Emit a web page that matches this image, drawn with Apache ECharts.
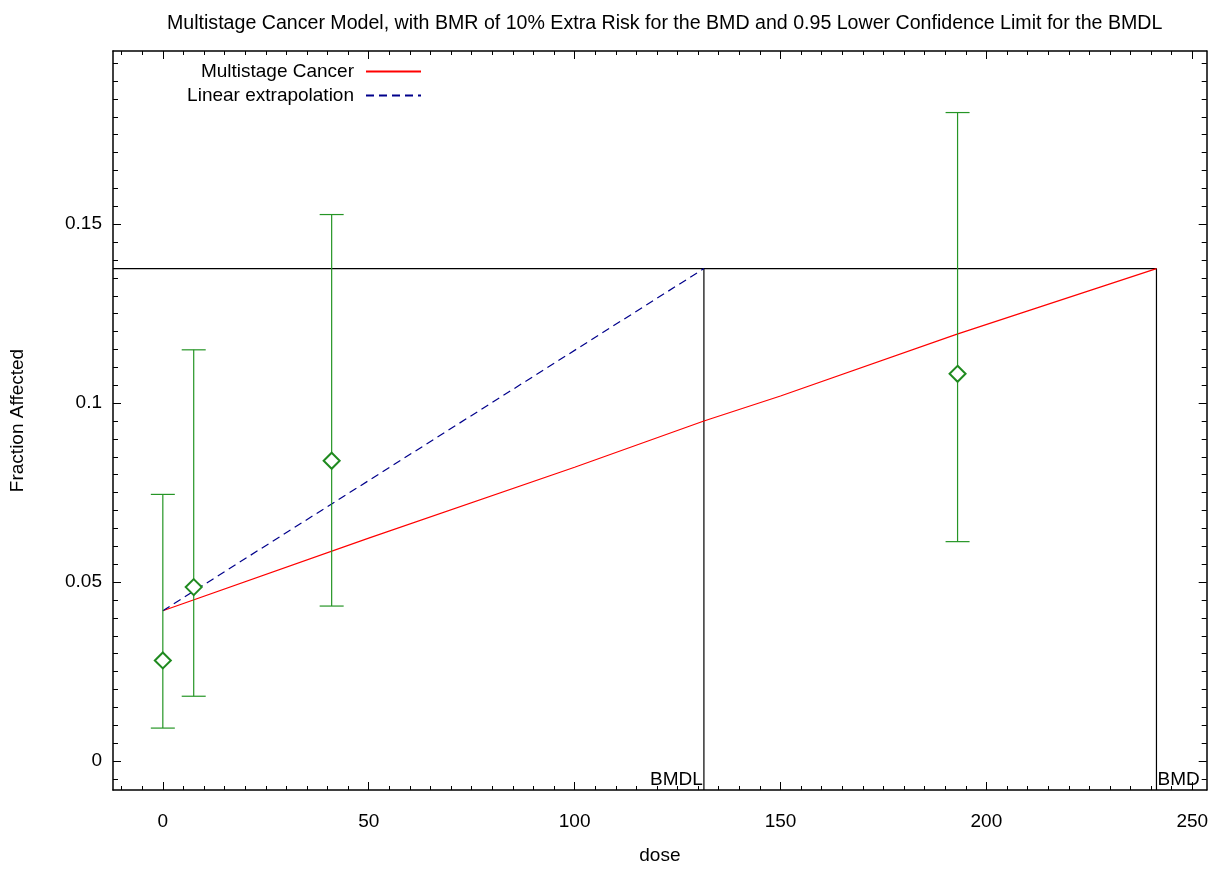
<!DOCTYPE html>
<html>
<head>
<meta charset="utf-8">
<script src="https://cdn.jsdelivr.net/npm/echarts@6/dist/echarts.min.js"></script>
<style>html,body{margin:0;padding:0;background:#fff;}#chart{width:1217px;height:870px;}</style>
</head>
<body>
<div id="chart"></div>
<script>
// ---- data ----
const TITLE = 'Multistage Cancer Model, with BMR of 10% Extra Risk for the BMD and 0.95 Lower Confidence Limit for the BMDL';
const X_NAME = 'dose';
const Y_NAME = 'Fraction Affected';
const X_MIN = -12.1, X_MAX = 253.5;
const Y_MIN = -0.0081, Y_MAX = 0.1984;
const X_MAJOR = [0, 50, 100, 150, 200, 250];
const X_MINOR = [-10,-5,5,10,15,20,25,30,35,40,45,55,60,65,70,75,80,85,90,95,105,110,115,120,125,130,135,140,145,155,160,165,170,175,180,185,190,195,205,210,215,220,225,230,235,240,245];
const Y_MAJOR = [0, 0.05, 0.1, 0.15];
const Y_MINOR = [-0.005,0.005,0.01,0.015,0.02,0.025,0.03,0.035,0.04,0.045,0.055,0.06,0.065,0.07,0.075,0.08,0.085,0.09,0.095,0.105,0.11,0.115,0.12,0.125,0.13,0.135,0.14,0.145,0.155,0.16,0.165,0.17,0.175,0.18,0.185,0.19,0.195];

const doses    = [0, 7.5, 41, 193];
const observed = [0.0281, 0.0486, 0.0839, 0.1082];
const lowerCL  = [0.0092, 0.0181, 0.0433, 0.0613];
const upperCL  = [0.0745, 0.1149, 0.1527, 0.1812];

const modelDose = [0, 50, 100, 131.4, 150, 192.7, 241.3];
const modelFit  = [0.0420, 0.0623, 0.0821, 0.0950, 0.1020, 0.1192, 0.1376];

const BMR_LEVEL = 0.1376;
const BMDL = 131.4;
const BMD = 241.3;
const INTERCEPT = 0.0420;

const linearDose = [0, BMDL];
const linearFit  = [INTERCEPT, BMR_LEVEL];

// ---- chart ----
const FONT = 'Liberation Sans, Arial, sans-serif';
const FS = 19;
const chart = echarts.init(document.getElementById('chart'), null, {renderer: 'canvas'});

function xAxis(pos, vals, len, labels, line) {
  return {
    type: 'value', position: pos, min: X_MIN, max: X_MAX,
    axisLine: {show: line, onZero: false, lineStyle: {color: '#000', width: 1.5}},
    axisTick: {show: true, inside: true, length: len, customValues: vals, lineStyle: {color: '#000', width: 1}},
    axisLabel: labels ? {show: true, customValues: vals, margin: 22, color: '#000', fontSize: FS, fontFamily: FONT} : {show: false},
    splitLine: {show: false},
    name: labels ? X_NAME : '', nameLocation: 'middle', nameGap: 56,
    nameTextStyle: {color: '#000', fontSize: FS, fontFamily: FONT}
  };
}
function yAxis(pos, vals, len, labels, line) {
  return {
    type: 'value', position: pos, min: Y_MIN, max: Y_MAX,
    axisLine: {show: line, onZero: false, lineStyle: {color: '#000', width: 1.5}},
    axisTick: {show: true, inside: true, length: len, customValues: vals, lineStyle: {color: '#000', width: 1}},
    axisLabel: labels ? {show: true, customValues: vals, margin: 11, color: '#000', fontSize: FS, fontFamily: FONT,
      formatter: v => String(+(+v).toFixed(3))} : {show: false},
    splitLine: {show: false},
    name: labels ? Y_NAME : '', nameLocation: 'middle', nameGap: 86, nameRotate: 90,
    nameTextStyle: {color: '#000', fontSize: FS, fontFamily: FONT}
  };
}

const errData = doses.map((d, i) => [d, lowerCL[i], upperCL[i]]);
const GREEN = '#259525';
const MARK_GREEN = '#1f8a1f';

const legendBase = {
  right: 795, orient: 'vertical', align: 'right', padding: 0,
  itemWidth: 55, itemHeight: 14, selectedMode: false,
  itemStyle: {color: 'rgba(0,0,0,0)', borderWidth: 0, opacity: 0},
  textStyle: {color: '#000', fontSize: FS, fontFamily: FONT, padding: [14, 7, 0, 0]}
};

const option = {
  backgroundColor: '#fff',
  animation: false,
  title: {
    text: TITLE, left: 162, top: 9,
    textStyle: {color: '#000', fontSize: 19.6, fontWeight: 'normal', fontFamily: FONT}
  },
  legend: [
    Object.assign({}, legendBase, {data: ['Multistage Cancer'], top: 62}),
    Object.assign({}, legendBase, {data: ['Linear extrapolation'], top: 86})
  ],
  grid: {left: 109, top: 51, width: 1097.7, height: 741.3, containLabel: false},
  xAxis: [
    xAxis('bottom', X_MAJOR, 8, true, true),
    xAxis('bottom', X_MINOR, 4, false, false),
    xAxis('top', X_MAJOR, 8, false, true),
    xAxis('top', X_MINOR, 4, false, false)
  ],
  yAxis: [
    yAxis('left', Y_MAJOR, 8, true, true),
    yAxis('left', Y_MINOR, 5, false, false),
    yAxis('right', Y_MAJOR, 8, false, true),
    yAxis('right', Y_MINOR, 5, false, false)
  ],
  series: [
    {
      name: 'BMR', type: 'line', symbol: 'none', silent: true,
      data: [[X_MIN, BMR_LEVEL], [BMD, BMR_LEVEL]],
      lineStyle: {color: '#000', width: 1.2}, z: 1
    },
    {
      name: 'BMDL line', type: 'line', symbol: 'none', silent: true,
      data: [[BMDL, BMR_LEVEL], [BMDL, Y_MIN]],
      lineStyle: {color: '#000', width: 1.2}, z: 1
    },
    {
      name: 'BMD line', type: 'line', symbol: 'none', silent: true,
      data: [[BMD, BMR_LEVEL], [BMD, Y_MIN]],
      lineStyle: {color: '#000', width: 1.2}, z: 1
    },
    {
      name: 'marks', type: 'scatter', symbolSize: 0, silent: true,
      itemStyle: {opacity: 1},
      data: [
        {value: [BMDL, Y_MIN], label: {show: true, formatter: 'BMDL', position: [0, 0], align: 'right', verticalAlign: 'bottom', offset: [-1, -1], color: '#000', opacity: 1}},
        {value: [BMD, Y_MIN], label: {show: true, formatter: 'BMD', position: [0, 0], align: 'left', verticalAlign: 'bottom', offset: [1, -1], color: '#000', opacity: 1}}
      ],
      label: {color: '#000', fontSize: FS, fontFamily: FONT, opacity: 1}
    },
    {
      name: 'Multistage Cancer', type: 'line', symbol: 'none', smooth: false,
      data: modelDose.map((d, i) => [d, modelFit[i]]),
      lineStyle: {color: '#ff0000', width: 1.2}, itemStyle: {color: '#ff0000'}, z: 2
    },
    {
      name: 'Linear extrapolation', type: 'line', symbol: 'none',
      data: linearDose.map((d, i) => [d, linearFit[i]]),
      lineStyle: {color: '#00008b', width: 1.2, type: [8, 5]}, itemStyle: {color: '#00008b'}, z: 2
    },
    {
      name: 'errorbars', type: 'custom', silent: true, z: 3,
      data: errData,
      renderItem: function (params, api) {
        const x = api.value(0);
        const lo = api.coord([x, api.value(1)]);
        const hi = api.coord([x, api.value(2)]);
        const w = 12;
        const st = {stroke: GREEN, lineWidth: 1.2};
        return {type: 'group', children: [
          {type: 'line', shape: {x1: lo[0], y1: lo[1], x2: hi[0], y2: hi[1]}, style: st},
          {type: 'line', shape: {x1: lo[0] - w, y1: lo[1], x2: lo[0] + w, y2: lo[1]}, style: st},
          {type: 'line', shape: {x1: hi[0] - w, y1: hi[1], x2: hi[0] + w, y2: hi[1]}, style: st}
        ]};
      }
    },
    {
      name: 'Observed', type: 'scatter', symbol: 'emptyDiamond', symbolSize: 16, z: 4,
      data: doses.map((d, i) => [d, observed[i]]),
      itemStyle: {color: MARK_GREEN, borderColor: MARK_GREEN, borderWidth: 1.5, opacity: 1}
    }
  ]
};
chart.setOption(option);
</script>
</body>
</html>
